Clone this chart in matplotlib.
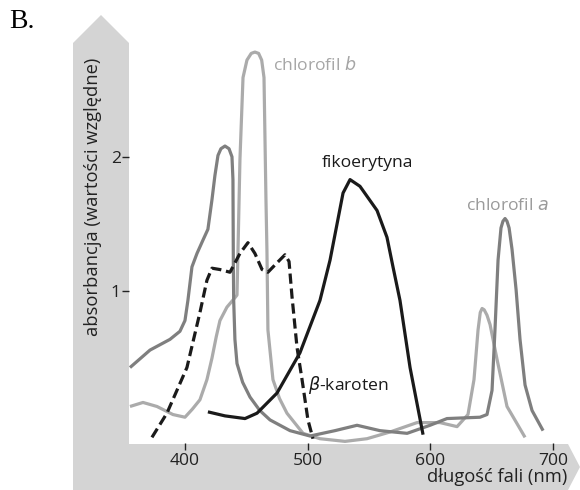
"""
Widma absorpcji barwników fotosyntetycznych (rys. B).
"""
import matplotlib
matplotlib.use('Agg')
import matplotlib.pyplot as plt
from matplotlib.patches import Polygon

# --- dane (nm, absorbancja wzgledna) ---
chl_a_nm = [355.2, 371.5, 387.8, 395.9, 400.0, 402.4, 405.7, 409.8, 414.7, 418.7,
            422.0, 424.4, 426.9, 429.3, 432.6, 435.9, 438.3, 439.1, 439.4, 439.7,
            440.7, 442.4, 447.0, 453.0, 461.0, 469.3, 485.6, 501.9, 522.2, 540.2,
            558.9, 581.0, 599.7, 613.5, 640.4, 646.1, 650.2, 652.6, 655.1, 657.5,
            659.1, 660.8, 662.4, 664.1, 666.5, 669.8, 673.0, 677.1, 682.8, 691.8]
chl_a_abs = [0.43, 0.56, 0.64, 0.70, 0.78, 0.93, 1.18, 1.28, 1.38, 1.46,
             1.68, 1.86, 2.01, 2.06, 2.08, 2.06, 2.00, 1.83, 1.23, 0.93,
             0.64, 0.46, 0.32, 0.21, 0.11, 0.04, -0.04, -0.08, -0.04, 0.00,
             -0.04, -0.06, 0.00, 0.05, 0.06, 0.08, 0.26, 0.71, 1.23, 1.47,
             1.52, 1.54, 1.52, 1.47, 1.31, 1.01, 0.64, 0.30, 0.11, -0.04]

chl_b_nm = [355.2, 365.8, 377.2, 390.2, 400.0, 406.0, 412.2, 417.9, 422.0, 425.5,
            428.5, 434.2, 440.7, 442.4, 443.2, 444.8, 447.3, 450.5, 454.0, 457.0,
            460.0, 462.5, 464.4, 466.0, 466.8, 467.6, 471.7, 477.0, 483.1, 496.2,
            510.0, 530.4, 548.3, 567.1, 589.1, 607.8, 621.7, 630.6, 635.5, 638.8,
            640.6, 642.1, 643.8, 646.1, 648.6, 654.3, 662.4, 677.1]
chl_b_abs = [0.14, 0.17, 0.14, 0.08, 0.06, 0.12, 0.19, 0.34, 0.50, 0.66,
             0.78, 0.88, 0.95, 0.97, 1.30, 1.98, 2.59, 2.72, 2.77, 2.78,
             2.77, 2.72, 2.59, 1.68, 1.30, 0.71, 0.34, 0.20, 0.09, -0.06,
             -0.10, -0.12, -0.10, -0.05, 0.02, 0.02, -0.01, 0.08, 0.34, 0.71,
             0.84, 0.87, 0.86, 0.82, 0.75, 0.49, 0.14, -0.09]

fiko_nm = [418.7, 432.6, 448.9, 458.7, 475.0, 493.7, 510.0, 518.2, 528.8, 534.5,
           542.6, 556.5, 564.6, 569.5, 575.2, 583.4, 594.0]
fiko_abs = [0.10, 0.07, 0.05, 0.09, 0.24, 0.54, 0.93, 1.23, 1.73, 1.83,
            1.78, 1.60, 1.40, 1.18, 0.93, 0.43, -0.07]

karoten_nm = [373.1, 385.3, 401.6, 412.2, 417.9, 422.0, 428.5, 436.7, 444.8, 451.3,
              457.0, 462.8, 467.6, 475.0, 481.5, 484.8, 487.2, 491.3, 495.4, 500.2,
              504.3]
karoten_abs = [-0.09, 0.09, 0.43, 0.84, 1.08, 1.17, 1.16, 1.14, 1.28, 1.36,
               1.28, 1.16, 1.14, 1.21, 1.27, 1.22, 0.96, 0.58, 0.34, 0.04,
               -0.10]

x_ticks = [400, 500, 600, 700]
y_ticks = [1, 2]

W, H = 580, 490
BAND = '#d4d4d4'
FS = 12.6
plt.rcParams['font.family'] = ['Open Sans', 'DejaVu Sans']

fig = plt.figure(figsize=(W / 100, H / 100), dpi=100)

# tlo: szare strzalki osi w pikselach
bg = fig.add_axes([0, 0, 1, 1])
bg.set_xlim(0, W)
bg.set_ylim(H, 0)
bg.axis('off')
bg.add_patch(Polygon([(73, H), (73, 43), (101, 15), (129, 43), (129, H)],
                     closed=True, color=BAND, lw=0))
bg.add_patch(Polygon([(73, 444), (568, 444), (580, 467), (568, H), (73, H)],
                     closed=True, color=BAND, lw=0))
bg.text(9, 22, 'B.', fontsize=20, family='Liberation Serif', va='center', ha='left')
bg.text(93, 197, 'absorbancja (wartości względne)', rotation=90,
        fontsize=13.2, ha='center', va='center', color='#222222')
bg.text(567, 477, 'długość fali (nm)', fontsize=13.2, ha='right', va='center',
        color='#222222')

# osie danych
ax = fig.add_axes([129 / W, (H - 443) / H, (575 - 129) / W, (443 - 15) / H])
ax.set_xlim(354.4, 717.8)
ax.set_ylim(-0.132, 3.056)
ax.patch.set_alpha(0)
for s in ax.spines.values():
    s.set_visible(False)
ax.set_xticks(x_ticks)
ax.set_yticks(y_ticks)
ax.set_yticklabels([str(t) for t in y_ticks])
ax.tick_params(axis='x', direction='out', length=5, width=1, color='#222222',
               labelsize=FS, pad=2, labelcolor='#222222')
ax.tick_params(axis='y', direction='out', length=5, width=1, color='#222222',
               labelsize=FS, pad=1, labelcolor='#222222')

lw = 2.3
ax.plot(chl_b_nm, chl_b_abs, color='#ababab', lw=lw, solid_joinstyle='round',
        solid_capstyle='butt')
ax.plot(chl_a_nm, chl_a_abs, color='#7f7f7f', lw=lw, solid_joinstyle='round',
        solid_capstyle='butt')
ax.plot(fiko_nm, fiko_abs, color='#1a1a1a', lw=lw, solid_joinstyle='round',
        solid_capstyle='butt')
ax.plot(karoten_nm, karoten_abs, color='#1a1a1a', lw=lw, ls=(0, (3.2, 1.5)),
        dash_joinstyle='round', dash_capstyle='butt')

ax.text(471.5, 2.68, 'chlorofil $\\mathit{b}$', color='#a6a6a6', fontsize=FS,
        ha='left', va='center')
ax.text(548.3, 1.95, 'fikoerytyna', color='#1a1a1a', fontsize=FS,
        ha='center', va='center')
ax.text(663.0, 1.63, 'chlorofil $\\mathit{a}$', color='#9a9a9a', fontsize=FS,
        ha='center', va='center')
ax.text(500.2, 0.30, '$\\mathit{\\beta}$-karoten', color='#1a1a1a', fontsize=FS,
        ha='left', va='center')

fig.savefig('out.png', dpi=100)
plt.close(fig)
